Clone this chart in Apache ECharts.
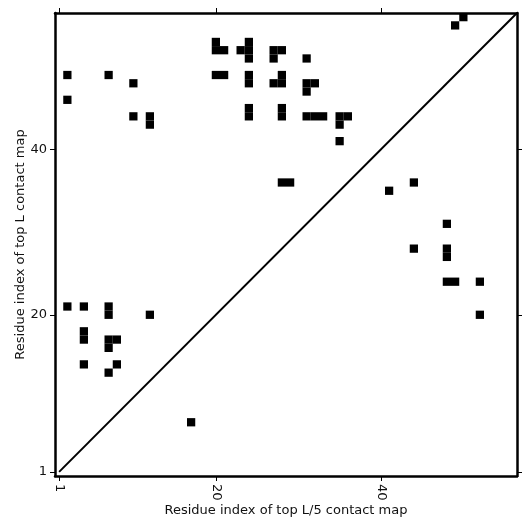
<!DOCTYPE html>
<html>
<head>
<meta charset="utf-8">
<script src="https://cdn.jsdelivr.net/npm/echarts@6/dist/echarts.min.js"></script>
<style>html,body{margin:0;padding:0;background:#fff}#c{width:531px;height:531px}</style>
</head>
<body>
<div id="c"></div>
<script>
// Upper triangle: top L contact map cells [x, y]
const topLContacts = [
  [2,49],[7,49],[10,48],[2,46],[10,44],[12,44],[12,43],
  [20,53],[20,52],[21,52],[20,49],[21,49],
  [23,52],[24,53],[24,52],[24,51],[24,49],[24,48],[24,45],[24,44],
  [27,52],[28,52],[27,51],[28,49],[27,48],[28,48],[28,45],[28,44],
  [31,51],[31,48],[32,48],[31,47],[31,44],[32,44],[33,44],
  [35,44],[36,44],[35,43],[35,41],[28,36],[29,36],
  [2,21],[4,21],[7,21],[7,20],[12,20],[4,18],[4,17],
  [7,17],[7,16],[8,17],[4,14],[8,14],[7,13],
  [49,55],[50,56]
];
// Lower triangle: top L/5 contact map cells [x, y]
const topL5Contacts = [
  [17,7],[44,36],[41,35],[48,31],[44,28],[48,28],[48,27],
  [48,24],[49,24],[52,24],[52,20]
];
const diagonal = [[1,1],[56.5,56.5]];
const tickValues = [1, 20, 40];
const axisMin = 0.5, axisMax = 56.5;

const chart = echarts.init(document.getElementById('c'), null, {renderer:'canvas'});
const font = 'DejaVu Sans';
function renderCell(params, api){
  const x = api.value(0), y = api.value(1);
  const p = api.coord([x - 0.5, y + 0.5]);
  const s = api.size([1, 1]);
  return {type:'rect', shape:{x:p[0], y:p[1], width:s[0], height:s[1]}, style:{fill:'#000'}};
}
const baseAxis = {
  min: axisMin, max: axisMax, type: 'value',
  splitLine: {show:false},
  axisLine: {show:true, onZero:false, lineStyle:{color:'#000', width:2.5}},
  axisTick: {show:true, inside:false, length:5, customValues: tickValues, lineStyle:{color:'#000', width:1}},
};
chart.setOption({
  animation:false,
  backgroundColor:'#fff',
  grid:{left:55, right:14, top:13, bottom:55, containLabel:false},
  xAxis:[
    Object.assign({}, baseAxis, {
      position:'bottom',
      name:'Residue index of top L/5 contact map', nameLocation:'middle', nameGap:28, nameMoveOverlap:false,
      nameTextStyle:{fontFamily:font, fontSize:13, color:'#111'},
      axisLabel:{show:true, customValues: tickValues, rotate:-90, margin:8, fontFamily:font, fontSize:13, color:'#111'}
    }),
    Object.assign({}, baseAxis, {position:'top', axisLabel:{show:false}})
  ],
  yAxis:[
    Object.assign({}, baseAxis, {
      position:'left',
      name:'Residue index of top L contact map', nameLocation:'middle', nameGap:28, nameMoveOverlap:false,
      nameTextStyle:{fontFamily:font, fontSize:13, color:'#111'},
      axisLabel:{show:true, customValues: tickValues, margin:8, fontFamily:font, fontSize:13, color:'#111'}
    }),
    Object.assign({}, baseAxis, {position:'right', axisLabel:{show:false}})
  ],
  series:[
    {type:'custom', xAxisIndex:0, yAxisIndex:0, data: topLContacts, renderItem: renderCell, clip:true},
    {type:'custom', xAxisIndex:0, yAxisIndex:0, data: topL5Contacts, renderItem: renderCell, clip:true},
    {type:'line', xAxisIndex:0, yAxisIndex:0, data: diagonal, showSymbol:false, symbol:'none',
     lineStyle:{color:'#000', width:2}, clip:true, z:3}
  ]
});
</script>
</body>
</html>
